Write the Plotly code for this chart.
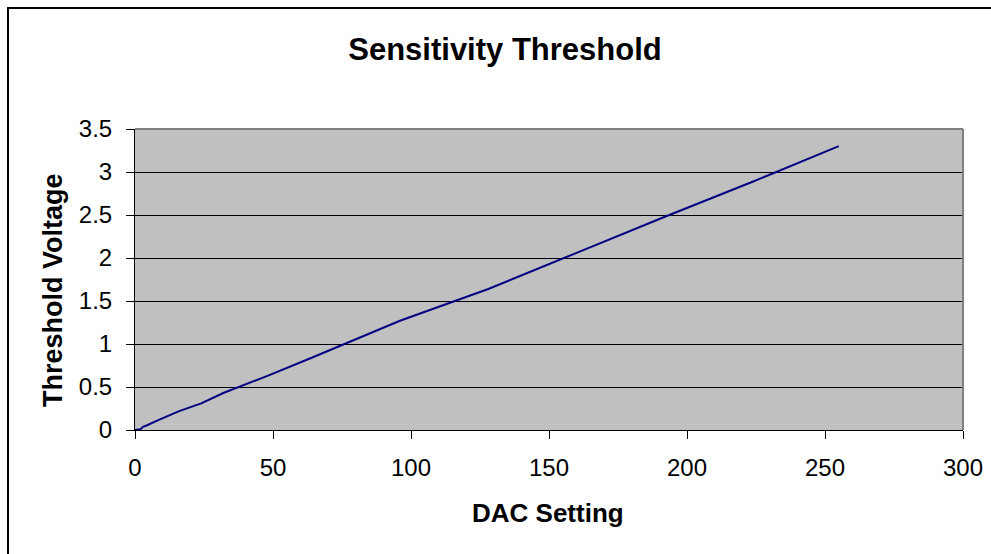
import plotly.graph_objects as go

dac = [0, 2, 3, 4, 8, 16, 24, 32, 48, 64, 96, 128, 160, 192, 224, 240, 255]
volts = [0.0, 0.01, 0.04, 0.05, 0.11, 0.22, 0.31, 0.43, 0.63, 0.84, 1.27, 1.64, 2.06, 2.48, 2.89, 3.10, 3.30]

W, H = 991, 554
L, R, T, B = 135, 28, 129, 124
pw, ph = W - L - R, H - T - B

def px(x):
    return (x - L) / pw

def py(y):
    return (H - B - y) / ph

fig = go.Figure()
fig.add_trace(go.Scatter(x=dac, y=volts, mode="lines",
                         line=dict(color="#000080", width=2), showlegend=False))

font = "Liberation Sans, Arial, sans-serif"
fig.update_layout(
    width=W, height=H,
    margin=dict(l=L, r=R, t=T, b=B),
    paper_bgcolor="white", plot_bgcolor="#C0C0C0",
    font=dict(family=font, color="black", size=24),
    title=dict(text="<b>Sensitivity Threshold</b>", xref="container", x=505 / W,
               xanchor="center", yref="container", y=1 - 49 / H, yanchor="middle",
               font=dict(size=31)),
    xaxis=dict(range=[0, 300], tickvals=[0, 50, 100, 150, 200, 250, 300],
               showgrid=False, zeroline=False, showline=True, linecolor="black",
               linewidth=1, ticks="outside", ticklen=8, tickcolor="black",
               tickfont=dict(size=24), ticklabelstandoff=8, automargin=False),
    yaxis=dict(range=[0, 3.5], tickvals=[0, 0.5, 1, 1.5, 2, 2.5, 3, 3.5],
               ticktext=["0", "0.5", "1", "1.5", "2", "2.5", "3", "3.5"],
               showgrid=True, gridcolor="black", gridwidth=1, zeroline=False,
               showline=True, linecolor="black", linewidth=1,
               ticks="outside", ticklen=8, tickcolor="black",
               tickfont=dict(size=24), ticklabelstandoff=9, automargin=False),
)

fig.add_annotation(text="<b>DAC Setting</b>", xref="paper", yref="paper",
                   x=px(548), y=py(513), showarrow=False,
                   xanchor="center", yanchor="middle", font=dict(size=26))
fig.add_annotation(text="<b>Threshold Voltage</b>", xref="paper", yref="paper",
                   x=px(53), y=py(290), showarrow=False, textangle=-90,
                   xanchor="center", yanchor="middle", font=dict(size=27))

# gray plot-area border (top and right)
fig.add_shape(type="line", xref="paper", yref="paper", x0=0, x1=1, y0=1, y1=1,
              line=dict(color="#808080", width=2), layer="above")
fig.add_shape(type="line", xref="paper", yref="paper", x0=1, x1=1, y0=0, y1=1,
              line=dict(color="#808080", width=2), layer="above")

# outer chart frame
fig.add_shape(type="rect", xref="paper", yref="paper",
              x0=px(8), x1=px(1000), y0=py(H + 10), y1=py(8),
              line=dict(color="black", width=2), fillcolor="rgba(0,0,0,0)", layer="above")

fig.write_html("out.html")
